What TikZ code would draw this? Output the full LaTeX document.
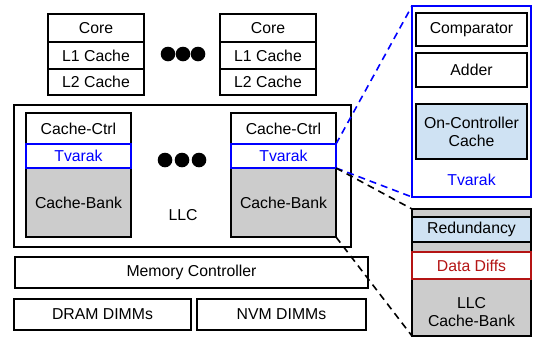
\documentclass[tikz,border=0pt]{standalone}
\usepackage{fontspec}
\setmainfont{Liberation Sans}
\usetikzlibrary{positioning}

\definecolor{tvblue}{RGB}{0,0,255}
\definecolor{diffred}{RGB}{180,20,20}
\definecolor{lightblue}{RGB}{207,226,243}
\definecolor{bankgray}{RGB}{204,204,204}

\tikzset{
  cell/.style={draw, line width=1.5pt, inner sep=0pt, outer sep=0pt,
    anchor=north west, font=\fontsize{15.8}{18}\selectfont, align=center},
  dots/.style={fill=black},
  zoomline/.style={line width=1.6pt, dash pattern=on 7pt off 5pt}
}

\begin{document}
\begin{tikzpicture}[x=1pt, y=-1pt]
    \useasboundingbox (0,0) rectangle (534,341);

    % cores with private caches
    \node[cell, minimum width=96pt, minimum height=28pt] (core1) at (48,14) {Core};
    \node[cell, minimum width=96pt, minimum height=27pt, below=0pt of core1] (l1a) {L1 Cache};
    \node[cell, minimum width=96pt, minimum height=26pt, below=0pt of l1a] (l2a) {L2 Cache};
    \node[cell, minimum width=96pt, minimum height=28pt] (core2) at (220,14) {Core};
    \node[cell, minimum width=96pt, minimum height=27pt, below=0pt of core2] (l1b) {L1 Cache};
    \node[cell, minimum width=96pt, minimum height=26pt, below=0pt of l1b] (l2b) {L2 Cache};

    \fill[dots] (168,54) circle (7.3pt);
    \fill[dots] (183,54) circle (7.3pt);
    \fill[dots] (198,54) circle (7.3pt);

    % LLC
    \node[cell, line width=2pt, minimum width=337pt, minimum height=142pt] (llc) at (14,105) {};
    \node[font=\fontsize{15.8}{18}\selectfont] (llclabel) at (183,215) {LLC};

    \node[cell, minimum width=105pt, minimum height=31pt] (ctrl1) at (26,113) {Cache-Ctrl};
    \node[cell, draw=tvblue, text=tvblue, minimum width=105pt, minimum height=24pt, below=0pt of ctrl1] (tv1) {Tvarak};
    \node[cell, fill=bankgray, minimum width=105pt, minimum height=69pt, below=0pt of tv1] (bank1) {Cache-Bank};
    \draw[tvblue, line width=1.5pt] (tv1.north west) rectangle (tv1.south east);

    \node[cell, minimum width=105pt, minimum height=31pt] (ctrl2) at (231,113) {Cache-Ctrl};
    \node[cell, draw=tvblue, text=tvblue, minimum width=105pt, minimum height=24pt, below=0pt of ctrl2] (tv2) {Tvarak};
    \node[cell, fill=bankgray, minimum width=105pt, minimum height=69pt, below=0pt of tv2] (bank2) {Cache-Bank};
    \draw[tvblue, line width=1.5pt] (tv2.north west) rectangle (tv2.south east);

    \fill[dots] (165,160) circle (7.3pt);
    \fill[dots] (182,160) circle (7.3pt);
    \fill[dots] (199,160) circle (7.3pt);

    % memory side
    \node[cell, minimum width=353pt, minimum height=31pt] (mc) at (15,257) {Memory Controller};
    \node[cell, minimum width=177pt, minimum height=31pt] (dram) at (14,299) {DRAM DIMMs};
    \node[cell, minimum width=169pt, minimum height=31pt] (nvm) at (197,299) {NVM DIMMs};

    % zoomed Tvarak
    \node[cell, draw=tvblue, line width=2pt, minimum width=119pt, minimum height=191pt] (tvz) at (412,6) {};
    \node[cell, minimum width=111pt, minimum height=33pt] (comp) at (416,13) {Comparator};
    \node[cell, minimum width=111pt, minimum height=34pt] (adder) at (416,53) {Adder};
    \node[cell, fill=lightblue, minimum width=111pt, minimum height=55pt] (occ) at (416,104) {On-Controller\\Cache};
    \node[text=tvblue, font=\fontsize{15.8}{18}\selectfont] (tvzlabel) at (471.5,180) {Tvarak};

    % zoomed cache bank
    \node[cell, fill=bankgray, minimum width=119pt, minimum height=127pt] (bankz) at (412,209) {};
    \node[cell, fill=lightblue, minimum width=119pt, minimum height=25pt] (red) at (412,217) {Redundancy};
    \node[cell, draw=diffred, text=diffred, fill=white, minimum width=119pt, minimum height=27pt] (diff) at (412,252) {Data Diffs};
    \node[font=\fontsize{15.8}{18}\selectfont, align=center] (bankzlabel) at (471.5,312) {LLC\\Cache-Bank};

    % zoom connectors
    \draw[zoomline, tvblue] (tv2.north east) -- (tvz.north west);
    \draw[zoomline, tvblue] (tv2.south east) -- (tvz.south west);
    \draw[zoomline] (bank2.north east) -- (bankz.north west);
    \draw[zoomline] (bank2.south east) -- (bankz.south west);
\end{tikzpicture}
\end{document}
